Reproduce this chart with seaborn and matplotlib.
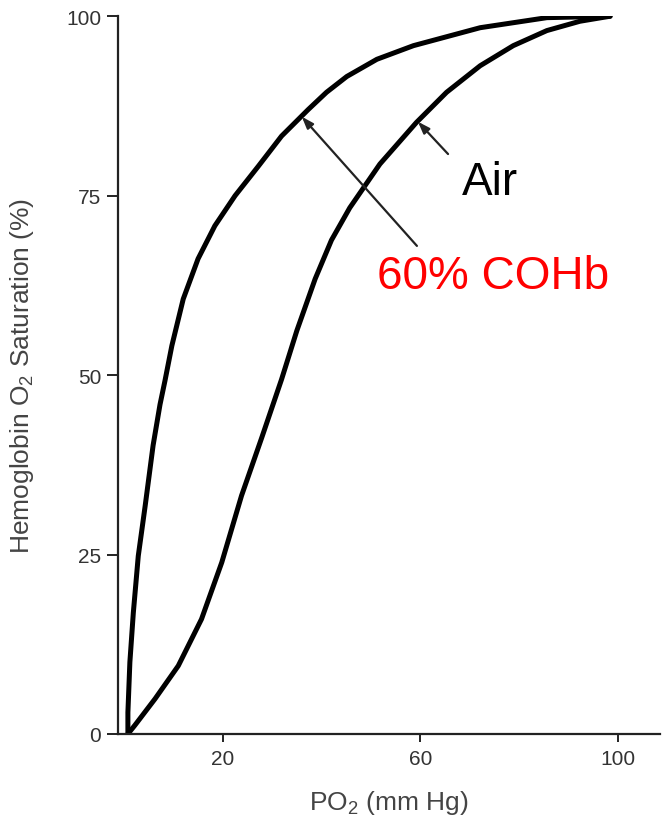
import matplotlib
matplotlib.use("Agg")
import matplotlib.pyplot as plt
import seaborn as sns
import pandas as pd

# ---- data ----
cohb_po2 = [0.8, 0.8, 1.2, 1.9, 2.9, 4.3, 5.9, 7.3, 8.3, 9.7, 12.0, 15.0, 18.4, 22.5,
            27.2, 31.9, 37.3, 41.0, 45.1, 51.2, 58.6, 72.1, 85.6, 98.4]
cohb_sat = [0.0, 3.0, 10.0, 16.9, 24.8, 31.8, 40.2, 45.9, 49.2, 54.1, 60.6, 66.2, 70.8, 75.0,
            79.1, 83.3, 87.0, 89.4, 91.6, 94.0, 95.9, 98.4, 99.8, 100.0]

air_po2 = [0.8, 2.2, 6.3, 11.0, 15.7, 19.8, 23.8, 27.9, 31.9, 35.0, 38.7, 42.0, 45.7, 51.8,
           59.2, 65.3, 72.1, 78.8, 85.6, 92.3, 98.4]
air_sat = [0.0, 1.2, 4.9, 9.5, 16.0, 23.9, 33.2, 41.3, 49.4, 56.2, 63.4, 68.8, 73.3, 79.4,
           85.2, 89.4, 93.1, 95.9, 98.0, 99.3, 100.0]

x_ticks = [20, 60, 100]
y_ticks = [0, 25, 50, 75, 100]

label_air = "Air"
label_cohb = "60% COHb"

df = pd.concat([
    pd.DataFrame({"PO2": cohb_po2, "Sat": cohb_sat, "curve": label_cohb}),
    pd.DataFrame({"PO2": air_po2, "Sat": air_sat, "curve": label_air}),
], ignore_index=True)

sns.set_style("ticks")
plt.rcParams["font.family"] = ["Liberation Sans", "DejaVu Sans"]
plt.rcParams["mathtext.fontset"] = "custom"
plt.rcParams["mathtext.rm"] = "Liberation Sans"
plt.rcParams["mathtext.it"] = "Liberation Sans:italic"

fig = plt.figure(figsize=(6.66, 8.2), dpi=100)
ax = fig.add_axes([0.1772, 0.1037, 0.991 - 0.1772, 0.979 - 0.1037])

sns.lineplot(data=df, x="PO2", y="Sat", units="curve", estimator=None, sort=False,
             color="black", lw=3.6, ax=ax, legend=False,
             solid_joinstyle="round", solid_capstyle="round")

ax.set_xlim(-1.2, 108.5)
ax.set_ylim(0, 100)
ax.set_xticks(x_ticks)
ax.set_yticks(y_ticks)

for s in ["top", "right"]:
    ax.spines[s].set_visible(False)
for s in ["left", "bottom"]:
    ax.spines[s].set_linewidth(1.6)
    ax.spines[s].set_color("#222222")

ax.tick_params(axis="y", length=8, width=1.4, colors="#222222", labelsize=15, pad=4,
               labelcolor="#333333")
ax.tick_params(axis="x", length=6, width=1.4, colors="#222222", labelsize=15, pad=5,
               labelcolor="#333333")

ax.set_xlabel(r"PO$_2$ (mm Hg)", fontsize=19, color="#444444", labelpad=14)
ax.set_ylabel(r"Hemoglobin O$_2$ Saturation (%)", fontsize=19, color="#444444", labelpad=22)

arrow_kw = dict(arrowstyle="-|>,head_length=0.7,head_width=0.25", color="#222222", lw=1.6,
                shrinkA=0, shrinkB=0)
ax.annotate("", xy=(36.0, 86.0), xytext=(59.3, 68.0), arrowprops=arrow_kw)
ax.annotate("", xy=(59.5, 85.3), xytext=(65.6, 80.8), arrowprops=arrow_kw)

ax.text(74.0, 75.2, label_air, fontsize=33, color="black", ha="center", va="baseline")
ax.text(74.8, 62.1, label_cohb, fontsize=33, color="#ff0000", ha="center", va="baseline")

fig.savefig("out.png", dpi=100)
